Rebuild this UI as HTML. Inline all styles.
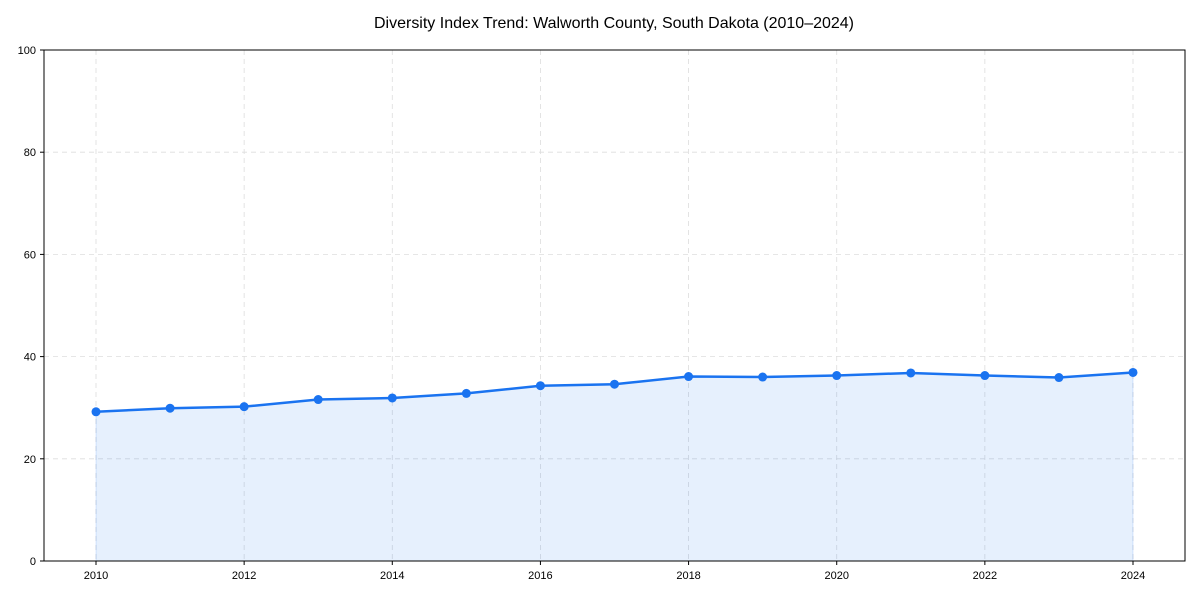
<!DOCTYPE html>
<html><head><meta charset="utf-8"><style>
html,body{margin:0;padding:0;background:#fff;}
svg{display:block;font-family:"Liberation Sans",sans-serif;}
</style></head><body>
<svg id="chart" width="1200" height="600">
<text x="614" y="28" text-anchor="middle" font-size="16" fill="#000" textLength="480" lengthAdjust="spacingAndGlyphs">Diversity Index Trend: Walworth County, South Dakota (2010–2024)</text>
<g id="grid"></g>
<g id="area"></g>
<g id="line"></g>
<g id="axes"></g>
</svg>
<script>
const years = [2010,2011,2012,2013,2014,2015,2016,2017,2018,2019,2020,2021,2022,2023,2024];
const values = [29.2,29.9,30.2,31.6,31.9,32.8,34.3,34.6,36.1,36.0,36.3,36.8,36.3,35.9,36.9];
const xTicks = [2010,2012,2014,2016,2018,2020,2022,2024];
const yTicks = [0,20,40,60,80,100];
const L=44,R=1185,T=50,B=561;
const x = v => 96 + (v-2010)*(1133-96)/14;
const y = v => B - v*(B-T)/100;
const NS="http://www.w3.org/2000/svg";
function mk(tag, attrs, parent){const e=document.createElementNS(NS,tag);for(const k in attrs)e.setAttribute(k,attrs[k]);document.getElementById(parent).appendChild(e);return e;}
xTicks.forEach(t=>{
  const g=mk('line',{x1:x(t),x2:x(t),y1:T,y2:B,stroke:'#ddd','stroke-dasharray':'5,4','stroke-width':0.8},'grid');
  
  
  const tk=mk('line',{x1:x(t),x2:x(t),y1:B,y2:B+4,stroke:'#000'},'axes');
  
  
  const lb=mk('text',{x:x(t),y:B+18,'text-anchor':'middle','font-size':11},'axes');
  lb.textContent=t;
  
  
});
yTicks.forEach(t=>{
  if(t>0&&t<100){const g=mk('line',{x1:L,x2:R,y1:y(t),y2:y(t),stroke:'#ddd','stroke-dasharray':'5,4','stroke-width':0.8},'grid');
  
  }
  const tk=mk('line',{x1:L-4,x2:L,y1:y(t),y2:y(t),stroke:'#000'},'axes');
  
  
  const lb=mk('text',{x:L-8,y:y(t)+4,'text-anchor':'end','font-size':11},'axes');
  lb.textContent=t;
  
  
});
const frame=mk('rect',{x:L,y:T,width:R-L,height:B-T,fill:'none',stroke:'#000','stroke-width':1},'axes');


const pts=years.map((yr,i)=>x(yr)+','+y(values[i]));
const area=mk('polygon',{points:x(years[0])+','+B+' '+pts.join(' ')+' '+x(years[years.length-1])+','+B,fill:'#1a73f0','fill-opacity':0.11,stroke:'#1a73f0','stroke-opacity':0.15},'area');


const line=mk('polyline',{points:pts.join(' '),fill:'none',stroke:'#1a73f0','stroke-width':2.5},'line');


years.forEach((yr,i)=>{
  const c=mk('circle',{cx:x(yr),cy:y(values[i]),r:4.5,fill:'#1a73f0'},'line');
  
  
});
</script>
</body></html>
